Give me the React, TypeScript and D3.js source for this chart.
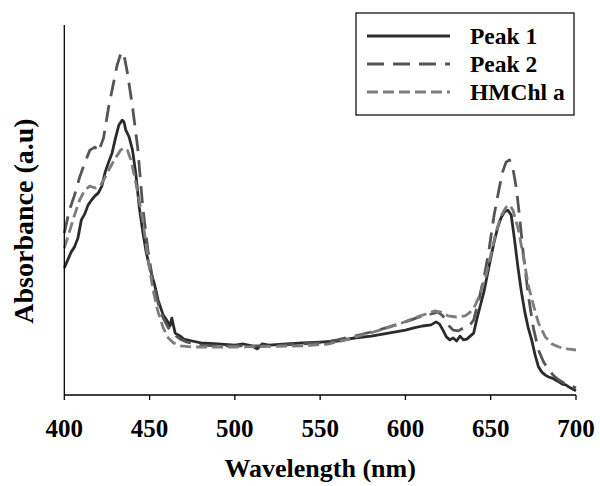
import React from "react";
import * as d3 from "d3";

const xTicks = [400, 450, 500, 550, 600, 650, 700];

const peak1Nm = [400,402,404,406,408,410,412,414,416,418,420,422,424,426,428,430,432,434,435,436,438,440,442,444,446,448,450,453,455,458,460,462,463,465,468,470,475,480,490,500,505,510,513,516,520,530,540,550,560,570,580,590,600,605,610,615,618,620,622,624,626,628,630,632,634,636,638,640,642,644,646,648,650,652,654,656,658,660,662,664,666,668,670,672,674,676,678,680,682,684,686,688,690,692,694,696,698,700];
const peak1Abs = [0.339,0.360,0.381,0.395,0.419,0.467,0.483,0.507,0.520,0.531,0.539,0.557,0.595,0.621,0.645,0.685,0.720,0.733,0.728,0.707,0.688,0.653,0.587,0.499,0.435,0.381,0.341,0.293,0.253,0.213,0.200,0.184,0.205,0.165,0.157,0.149,0.144,0.139,0.136,0.133,0.136,0.131,0.123,0.136,0.133,0.136,0.139,0.141,0.144,0.152,0.157,0.165,0.173,0.179,0.184,0.187,0.195,0.189,0.173,0.155,0.147,0.152,0.144,0.157,0.147,0.149,0.157,0.165,0.205,0.240,0.275,0.320,0.365,0.408,0.445,0.472,0.488,0.493,0.480,0.413,0.339,0.275,0.221,0.179,0.147,0.107,0.075,0.061,0.053,0.048,0.045,0.040,0.035,0.029,0.027,0.021,0.016,0.011];

const peak2Nm = [400,403,406,409,412,415,418,420,423,426,429,431,433,434,435,437,440,443,446,449,452,455,458,461,464,468,472,480,490,500,520,540,550,560,570,580,590,600,605,610,615,619,622,625,628,631,634,637,640,643,646,649,652,655,657,659,661,663,665,667,669,672,675,678,681,684,687,690,694,697,700];
const peak2Abs = [0.432,0.493,0.533,0.581,0.619,0.653,0.661,0.648,0.685,0.768,0.835,0.880,0.909,0.915,0.907,0.859,0.768,0.661,0.501,0.387,0.301,0.245,0.205,0.179,0.163,0.149,0.141,0.133,0.131,0.131,0.131,0.136,0.139,0.147,0.157,0.168,0.181,0.195,0.203,0.211,0.216,0.221,0.211,0.187,0.173,0.171,0.179,0.181,0.200,0.253,0.312,0.387,0.480,0.552,0.595,0.621,0.627,0.605,0.552,0.472,0.381,0.267,0.179,0.120,0.088,0.067,0.051,0.040,0.029,0.024,0.019];

const hmchlNm = [400,403,406,409,412,415,418,421,424,427,430,433,435,437,439,441,443,446,449,452,455,458,461,464,468,475,500,540,555,565,575,585,595,605,612,617,621,625,630,635,638,641,644,647,650,653,656,659,661,663,666,669,672,675,678,682,686,690,695,700];
const hmchlAbs = [0.392,0.435,0.480,0.520,0.547,0.557,0.552,0.557,0.581,0.608,0.632,0.653,0.659,0.653,0.627,0.587,0.541,0.467,0.365,0.280,0.221,0.179,0.152,0.139,0.131,0.128,0.128,0.131,0.136,0.147,0.160,0.173,0.187,0.205,0.216,0.224,0.221,0.211,0.208,0.211,0.221,0.240,0.272,0.315,0.373,0.432,0.477,0.501,0.507,0.493,0.445,0.373,0.293,0.240,0.192,0.155,0.136,0.128,0.123,0.120];

const seriesNames = ["Peak 1", "Peak 2", "HMChl a"];
const seriesColors = ["#2b2b2b", "#555555", "#7d7d7d"];
const seriesDash = ["none", "17 9", "11 5"];

const W = 600, H = 486;
const left = 64.3, right = 576, top = 25, bottom = 395;
const textStyle: React.CSSProperties = { fontFamily: "Liberation Serif, DejaVu Serif, serif", fontWeight: 700 };

export default function App() {
  const x = d3.scaleLinear().domain([400, 700]).range([left, right]);
  const y = d3.scaleLinear().domain([0, 1]).range([bottom, 20]);
  const line = d3.line<[number, number]>().x(d => x(d[0])).y(d => y(d[1]));
  const series = [
    d3.zip(peak1Nm, peak1Abs) as [number, number][],
    d3.zip(peak2Nm, peak2Abs) as [number, number][],
    d3.zip(hmchlNm, hmchlAbs) as [number, number][],
  ];
  const legY = [36, 64, 92];
  return (
    <svg width={W} height={H} style={{ position: "absolute", left: 0, top: 0, background: "#fff" }}>
      <rect x={0} y={0} width={W} height={H} fill="#fff" />
      {series.map((s, i) => (
        <path key={i} d={line(s) || ""} fill="none" stroke={seriesColors[i]}
          strokeWidth={2.8} strokeDasharray={seriesDash[i]} strokeLinejoin="round" />
      ))}
      <line x1={left} x2={left} y1={top} y2={bottom} stroke="#000" strokeWidth={1.3} />
      <line x1={left} x2={right} y1={bottom} y2={bottom} stroke="#000" strokeWidth={1.3} />
      {xTicks.map(t => (
        <g key={t}>
          <line x1={x(t)} x2={x(t)} y1={bottom} y2={bottom + 5} stroke="#000" strokeWidth={1.3} />
          <text x={x(t)} y={437} textAnchor="middle" style={textStyle} fontSize={25}>{t}</text>
        </g>
      ))}
      <text x={(left + right) / 2} y={477} textAnchor="middle" style={textStyle} fontSize={26}>Wavelength (nm)</text>
      <text transform={`translate(33,${221}) rotate(-90)`} textAnchor="middle" style={textStyle} fontSize={28}>Absorbance (a.u)</text>
      <rect x={356} y={13} width={218} height={102} fill="#fff" stroke="#000" strokeWidth={1.2} />
      {seriesNames.map((n, i) => (
        <g key={n}>
          <line x1={367} x2={450} y1={legY[i]} y2={legY[i]} stroke={seriesColors[i]} strokeWidth={2.8} strokeDasharray={seriesDash[i]} />
          <text x={470} y={legY[i] + 8} style={textStyle} fontSize={23.5}>{n}</text>
        </g>
      ))}
    </svg>
  );
}
